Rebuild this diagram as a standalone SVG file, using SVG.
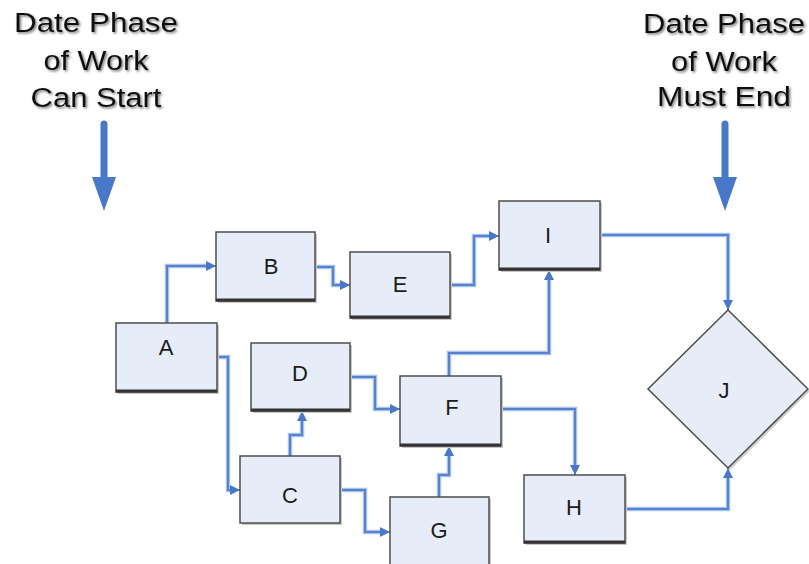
<svg xmlns="http://www.w3.org/2000/svg" width="809" height="564" viewBox="0 0 809 564">
<style>
.hdr{font-family:"Liberation Sans",Arial,sans-serif;font-size:27px;text-anchor:middle;fill:#111;filter:url(#ts)}
.lbl{font-family:"Liberation Sans",Arial,sans-serif;font-size:22px;fill:#1a1a1a;text-anchor:middle}
.box{fill:#e6edf8;stroke:#4d4d4d;stroke-width:1.5}
.shd{fill:#c8c8c8}
.bot{stroke:#333;stroke-width:3}
.halo{fill:none;stroke:#a9c2ea;stroke-width:4.5}
.ln{fill:none;stroke:#5683cf;stroke-width:2;marker-end:url(#ah)}
</style>
<defs>
<filter id="ts" x="-10%" y="-30%" width="120%" height="160%">
<feDropShadow dx="1.5" dy="1.5" stdDeviation="0.8" flood-color="#555" flood-opacity="0.8"/>
</filter>
<marker id="ah" viewBox="0 0 10 10" refX="10" refY="5" markerWidth="6" markerHeight="5" markerUnits="strokeWidth" orient="auto">
<path d="M0,0 L10,5 L0,10 Z" fill="#4a78c8"/>
</marker>
</defs>
<rect width="809" height="564" fill="#fff"/>
<g id="header-left">
<text class="hdr" x="96" y="32" textLength="164" lengthAdjust="spacingAndGlyphs">Date Phase</text>
<text class="hdr" x="96" y="70" textLength="105" lengthAdjust="spacingAndGlyphs">of Work</text>
<text class="hdr" x="96" y="107" textLength="131" lengthAdjust="spacingAndGlyphs">Can Start</text>
<line x1="104" y1="124" x2="104" y2="180" stroke="#4a78c8" stroke-width="7" stroke-linecap="round"/>
<path d="M92,177 L116,177 L104,211 Z" fill="#4a78c8"/>
</g>
<g id="header-right">
<text class="hdr" x="724" y="33" textLength="162" lengthAdjust="spacingAndGlyphs">Date Phase</text>
<text class="hdr" x="724" y="71" textLength="106" lengthAdjust="spacingAndGlyphs">of Work</text>
<text class="hdr" x="724" y="106" textLength="134" lengthAdjust="spacingAndGlyphs">Must End</text>
<line x1="725" y1="124" x2="725" y2="180" stroke="#4a78c8" stroke-width="7" stroke-linecap="round"/>
<path d="M713,177 L737,177 L725,211 Z" fill="#4a78c8"/>
</g>
<g id="connectors">
<path class="halo" d="M167,323 V266 H212"/><path class="ln" d="M167,323 V266 H216"/>
<path class="halo" d="M315,267 H333 V285 H346"/><path class="ln" d="M315,267 H333 V285 H350"/>
<path class="halo" d="M450,285 H474 V236 H495"/><path class="ln" d="M450,285 H474 V236 H499"/>
<path class="halo" d="M600,235 H728 V306"/><path class="ln" d="M600,235 H728 V310"/>
<path class="halo" d="M217,357 H228 V490 H236"/><path class="ln" d="M217,357 H228 V490 H240"/>
<path class="halo" d="M290,456 V435 H302 V415"/><path class="ln" d="M290,456 V435 H302 V411"/>
<path class="halo" d="M350,377 H375 V409 H396"/><path class="ln" d="M350,377 H375 V409 H400"/>
<path class="halo" d="M340,490 H365 V532 H386"/><path class="ln" d="M340,490 H365 V532 H390"/>
<path class="halo" d="M439,497 V475 H449 V450"/><path class="ln" d="M439,497 V475 H449 V446"/>
<path class="halo" d="M449,376 V353 H549 V274"/><path class="ln" d="M449,376 V353 H549 V270"/>
<path class="halo" d="M501,409 H575 V471"/><path class="ln" d="M501,409 H575 V475"/>
<path class="halo" d="M625,509 H728 V472"/><path class="ln" d="M625,509 H728 V468"/>
</g>
<g id="node-A"><rect class="shd" x="118" y="325" width="101" height="69"/><rect class="box" x="116" y="323" width="101" height="69"/><line class="bot" x1="116" y1="391" x2="217" y2="391"/><text class="lbl" x="166" y="355">A</text></g>
<g id="node-B"><rect class="shd" x="218" y="234" width="99" height="69"/><rect class="box" x="216" y="232" width="99" height="69"/><line class="bot" x1="216" y1="300" x2="315" y2="300"/><text class="lbl" x="271" y="274">B</text></g>
<g id="node-E"><rect class="shd" x="352" y="254" width="100" height="66"/><rect class="box" x="350" y="252" width="100" height="66"/><line class="bot" x1="350" y1="317" x2="450" y2="317"/><text class="lbl" x="400" y="292">E</text></g>
<g id="node-I"><rect class="shd" x="501" y="203" width="101" height="69"/><rect class="box" x="499" y="201" width="101" height="69"/><line class="bot" x1="499" y1="269" x2="600" y2="269"/><text class="lbl" x="548" y="243">I</text></g>
<g id="node-D"><rect class="shd" x="253" y="345" width="99" height="68"/><rect class="box" x="251" y="343" width="99" height="68"/><line class="bot" x1="251" y1="410" x2="350" y2="410"/><text class="lbl" x="300" y="381">D</text></g>
<g id="node-F"><rect class="shd" x="402" y="378" width="101" height="70"/><rect class="box" x="400" y="376" width="101" height="70"/><line class="bot" x1="400" y1="445" x2="501" y2="445"/><text class="lbl" x="452" y="415">F</text></g>
<g id="node-C"><rect class="shd" x="242" y="458" width="100" height="67"/><rect class="box" x="240" y="456" width="100" height="67"/><text class="lbl" x="290" y="503">C</text></g>
<g id="node-G"><rect class="shd" x="392" y="499" width="99" height="70"/><rect class="box" x="390" y="497" width="99" height="70"/><text class="lbl" x="439" y="538">G</text></g>
<g id="node-H"><rect class="shd" x="526" y="477" width="101" height="68"/><rect class="box" x="524" y="475" width="101" height="68"/><line class="bot" x1="524" y1="542" x2="625" y2="542"/><text class="lbl" x="574" y="515">H</text></g>
<g id="node-J"><path d="M730,312 L810,391 L730,470 L650,391 Z" fill="#cfcfcf"/><path class="box" d="M728,310 L808,389 L728,468 L648,389 Z"/><text class="lbl" x="724" y="398">J</text></g>
</svg>
